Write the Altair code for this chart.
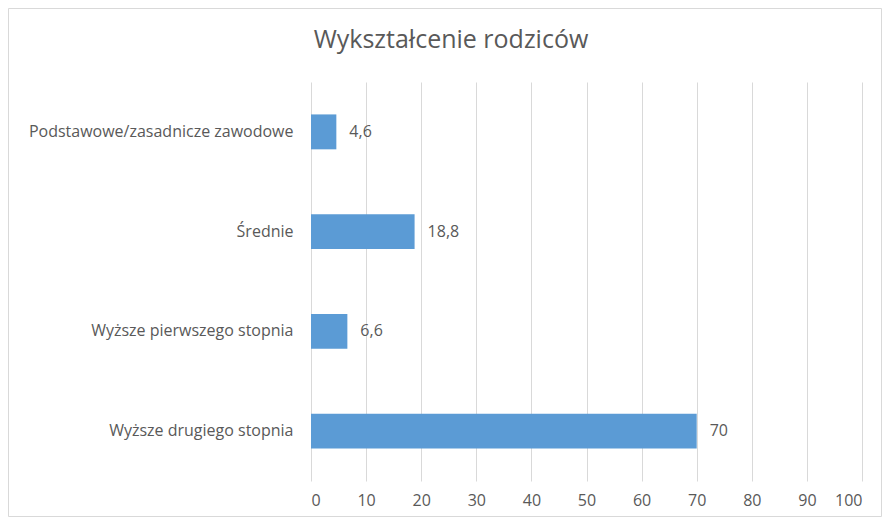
import altair as alt
import pandas as pd

categories = ["Podstawowe/zasadnicze zawodowe", "Średnie", "Wyższe pierwszego stopnia", "Wyższe drugiego stopnia"]
values = [4.6, 18.8, 6.6, 70]
labels = ["4,6", "18,8", "6,6", "70"]
x_ticks = [0, 10, 20, 30, 40, 50, 60, 70, 80, 90, 100]
title_text = "Wykształcenie rodziców"

df = pd.DataFrame({"cat": categories, "val": values, "lab": labels})

W, H = 551, 399
PL, PT, PR, PB = 303, 74, 20, 36
FONT = "Open Sans"
GREY = "#595959"

y_enc = alt.Y("cat:N", sort=categories,
              scale=alt.Scale(paddingInner=0.65, paddingOuter=0.325),
              axis=alt.Axis(title=None, ticks=False, domain=False, labelFontSize=16,
                            labelColor=GREY, labelFont=FONT, labelPadding=18, labelLimit=0,
                            grid=False))
x_enc = alt.X("val:Q", scale=alt.Scale(domain=[0, 100], nice=False),
              axis=alt.Axis(title=None, values=x_ticks, ticks=False, domain=False,
                            labelFontSize=16, labelColor=GREY, labelFont=FONT, labelPadding=11,
                            grid=True, gridColor="#D9D9D9", gridWidth=1))

bars = alt.Chart(df).mark_bar(color="#5B9BD5").encode(y=y_enc, x=x_enc)
text = alt.Chart(df).mark_text(align="left", baseline="middle", dx=13, fontSize=16,
                               font=FONT, color=GREY).encode(
    y=alt.Y("cat:N", sort=categories), x=alt.X("val:Q"), text="lab:N")

one = pd.DataFrame({"t": [title_text]})
title = alt.Chart(one).mark_text(fontSize=25, font=FONT, color=GREY, align="center",
                                 baseline="middle").encode(
    x=alt.value(140), y=alt.value(-42), text="t:N")
border = alt.Chart(one).mark_rect(fill=None, stroke="#D9D9D9", strokeWidth=1).encode(
    x=alt.value(-PL + 0.5), x2=alt.value(W + PR - 0.5),
    y=alt.value(-PT + 0.5), y2=alt.value(H + PB - 0.5))

chart = alt.layer(border, bars, text, title).properties(
    width=W, height=H,
    autosize=alt.AutoSizeParams(type="none"),
    padding={"left": PL, "top": PT, "right": PR, "bottom": PB},
).configure_view(stroke=None)

chart.save("out.html", embed_options={"renderer": "svg", "actions": False})
